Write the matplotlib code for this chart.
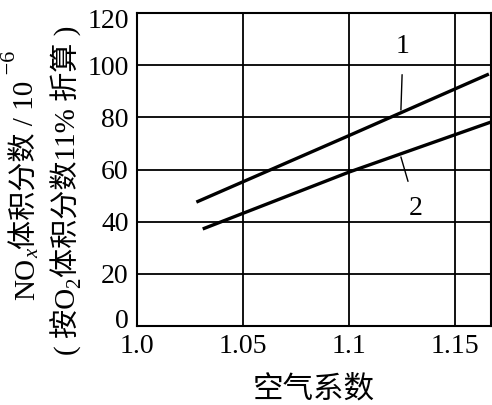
import matplotlib
matplotlib.use('Agg')
import matplotlib.pyplot as plt
from matplotlib.transforms import offset_copy

plt.rcParams['font.family'] = ['Liberation Serif', 'Noto Sans CJK SC']

# 数据
air_coef_1 = [1.028, 1.10, 1.166]
nox_1 = [47.5, 73.0, 96.6]
air_coef_2 = [1.031, 1.10, 1.167]
nox_2 = [37.2, 59.0, 78.2]

x_ticks = [1.0, 1.05, 1.1, 1.15]
x_ticklabels = ['1.0', '1.05', '1.1', '1.15']
y_ticks = [0, 20, 40, 60, 80, 100, 120]

fig = plt.figure(figsize=(4.92, 4.05), dpi=100)
ax = fig.add_axes([137 / 492, 79 / 405, 354 / 492, 313 / 405])

ax.plot(air_coef_1, nox_1, color='black', lw=2.4, solid_capstyle='butt')
ax.plot(air_coef_2, nox_2, color='black', lw=2.4, solid_capstyle='butt')

ax.set_xlim(1.0, 1.167)
ax.set_ylim(0, 120)
ax.set_xticks(x_ticks)
ax.set_xticklabels(x_ticklabels)
ax.set_yticks(y_ticks)
ax.grid(True, color='black', lw=1.3)
ax.tick_params(length=0, labelsize=20, pad=6)
for sp in ax.spines.values():
    sp.set_linewidth(1.5)

# 0 和 120 的刻度标签稍微挪进来
ylabs = ax.get_yticklabels()
ylabs[0].set_transform(offset_copy(ylabs[0].get_transform(), fig=fig, x=0, y=8, units='dots'))
ylabs[-1].set_transform(offset_copy(ylabs[-1].get_transform(), fig=fig, x=0, y=-5, units='dots'))

# 曲线标号
ax.annotate('1', xy=(1.1245, 82.8), xytext=(1.1255, 107), fontsize=20,
            ha='center', va='center',
            arrowprops=dict(arrowstyle='-', color='black', lw=1.0, shrinkA=9, shrinkB=0))
ax.annotate('2', xy=(1.1245, 64.8), xytext=(1.1316, 45), fontsize=20,
            ha='center', va='center',
            arrowprops=dict(arrowstyle='-', color='black', lw=1.0, shrinkA=9, shrinkB=0))

ax.set_xlabel('空气系数', fontsize=22, labelpad=12)


# 竖排的y轴标题, 分段画出上下标
def vertical_label(parts, x_px, y_start_px):
    renderer = fig.canvas.get_renderer()
    y = y_start_px
    for txt, size, shift, style in parts:
        t = fig.text((x_px + shift) / 492, y / 405, txt, rotation=90,
                     rotation_mode='anchor', ha='left', va='baseline',
                     fontsize=size, style=style)
        bb = t.get_window_extent(renderer)
        y += bb.height


line1 = [('NO', 21, 0, 'normal'), ('x', 15, 4, 'italic'),
         ('体积分数 / 10', 21, 0, 'normal'), (' −6', 16, -19, 'normal')]
line2 = [('( 按O', 21, 0, 'normal'), ('2', 15, 4, 'normal'),
         ('体积分数11% 折算 )', 21, 0, 'normal')]
vertical_label(line1, 34, 405 - 300)
vertical_label(line2, 76, 405 - 355)

fig.savefig('out.png', dpi=100)
